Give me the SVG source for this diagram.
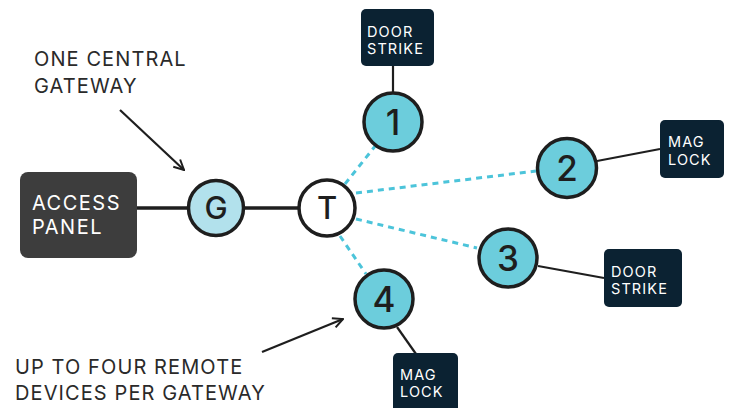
<svg xmlns="http://www.w3.org/2000/svg" width="729" height="408" viewBox="0 0 729 408">
  <defs>
    <style>
      .label { font-family: Inter, "Liberation Sans", sans-serif; font-size: 20px; letter-spacing: 1.1px; fill: #2a2a2a; }
      .dev { fill: #0b2232; }
      .devtxt { font-family: Inter, "Liberation Sans", sans-serif; font-size: 14.5px; letter-spacing: 1.1px; fill: #ffffff; }
      .node { stroke: #1e1e1e; stroke-width: 3.5; }
      .num { font-family: Inter, "Liberation Sans", sans-serif; font-size: 35px; font-weight: 500; fill: #1e1e1e; text-anchor: middle; }
      .hub { font-family: Inter, "Liberation Sans", sans-serif; font-size: 31px; font-weight: 500; fill: #1e1e1e; text-anchor: middle; }
      .wire { stroke: #1e1e1e; stroke-width: 3.5; fill: none; }
      .thin { stroke: #1e1e1e; stroke-width: 2.2; fill: none; }
      .radio { stroke: #4cc4da; stroke-width: 3; stroke-dasharray: 6 5; fill: none; }
      .ptr { stroke: #1e1e1e; stroke-width: 2.2; fill: none; marker-end: url(#open); }
      .panel { font-family: Inter, "Liberation Sans", sans-serif; font-size: 20px; letter-spacing: 1.5px; fill: #ffffff; }
    </style>
    <marker id="open" viewBox="0 0 12 12" refX="11" refY="6" markerWidth="12" markerHeight="12" markerUnits="userSpaceOnUse" orient="auto">
      <path d="M1 1 L11 6 L1 11" fill="none" stroke="#1e1e1e" stroke-width="2"/>
    </marker>
  </defs>

  <!-- connectors -->
  <g id="connectors">
    <line class="wire" x1="137" y1="208" x2="188" y2="208"/>
    <line class="wire" x1="244" y1="208" x2="298" y2="208"/>
    <line class="radio" x1="345" y1="184" x2="376" y2="145"/>
    <line class="radio" x1="356" y1="193" x2="536" y2="171"/>
    <line class="radio" x1="356" y1="219" x2="477" y2="248"/>
    <line class="radio" x1="340" y1="236" x2="366" y2="274"/>
    <line class="thin" x1="393" y1="66" x2="393" y2="92"/>
    <line class="thin" x1="597" y1="161" x2="660" y2="149"/>
    <line class="thin" x1="538" y1="266" x2="604" y2="278"/>
    <line class="thin" x1="397" y1="327" x2="416" y2="354"/>
    <line class="ptr" x1="120" y1="110" x2="184" y2="170"/>
    <line class="ptr" x1="262" y1="352" x2="343" y2="319"/>
  </g>

  <!-- callout labels -->
  <g id="gateway-note">
    <text class="label" x="34" y="66">ONE CENTRAL</text>
    <text class="label" x="34" y="93">GATEWAY</text>
  </g>
  <g id="devices-note">
    <text class="label" x="15" y="374">UP TO FOUR REMOTE</text>
    <text class="label" x="15" y="400">DEVICES PER GATEWAY</text>
  </g>

  <!-- access panel -->
  <g id="access-panel">
    <rect x="20" y="172" width="117" height="86" rx="8" fill="#3d3d3d"/>
    <text class="panel" x="32" y="210">ACCESS</text>
    <text class="panel" x="32" y="234">PANEL</text>
  </g>

  <!-- gateway and transceiver -->
  <g id="gateway">
    <circle class="node" cx="216" cy="208" r="27.5" fill="#b2e1ec"/>
    <text class="hub" x="216" y="219">G</text>
  </g>
  <g id="transceiver">
    <circle class="node" cx="327" cy="208" r="28" fill="#ffffff"/>
    <text class="hub" x="327" y="219">T</text>
  </g>

  <!-- remote nodes -->
  <g id="node-1">
    <circle class="node" cx="393" cy="122" r="29" fill="#6ccddc"/>
    <text class="num" x="393" y="135">1</text>
  </g>
  <g id="node-2">
    <circle class="node" cx="567" cy="168" r="29.5" fill="#6ccddc"/>
    <text class="num" x="567" y="181">2</text>
  </g>
  <g id="node-3">
    <circle class="node" cx="508" cy="258" r="29" fill="#6ccddc"/>
    <text class="num" x="508" y="271">3</text>
  </g>
  <g id="node-4">
    <circle class="node" cx="384" cy="299" r="29" fill="#6ccddc"/>
    <text class="num" x="384" y="312">4</text>
  </g>

  <!-- end devices -->
  <g id="device-1">
    <rect class="dev" x="361" y="9" width="73" height="57" rx="5"/>
    <text class="devtxt" x="367" y="37">DOOR</text>
    <text class="devtxt" x="367" y="54">STRIKE</text>
  </g>
  <g id="device-2">
    <rect class="dev" x="660" y="120" width="64" height="58" rx="5"/>
    <text class="devtxt" x="668" y="147">MAG</text>
    <text class="devtxt" x="668" y="165">LOCK</text>
  </g>
  <g id="device-3">
    <rect class="dev" x="604" y="249" width="78" height="58" rx="5"/>
    <text class="devtxt" x="611" y="277">DOOR</text>
    <text class="devtxt" x="611" y="294">STRIKE</text>
  </g>
  <g id="device-4">
    <rect class="dev" x="393" y="353" width="65" height="60" rx="5"/>
    <text class="devtxt" x="400" y="380">MAG</text>
    <text class="devtxt" x="400" y="397">LOCK</text>
  </g>
</svg>
